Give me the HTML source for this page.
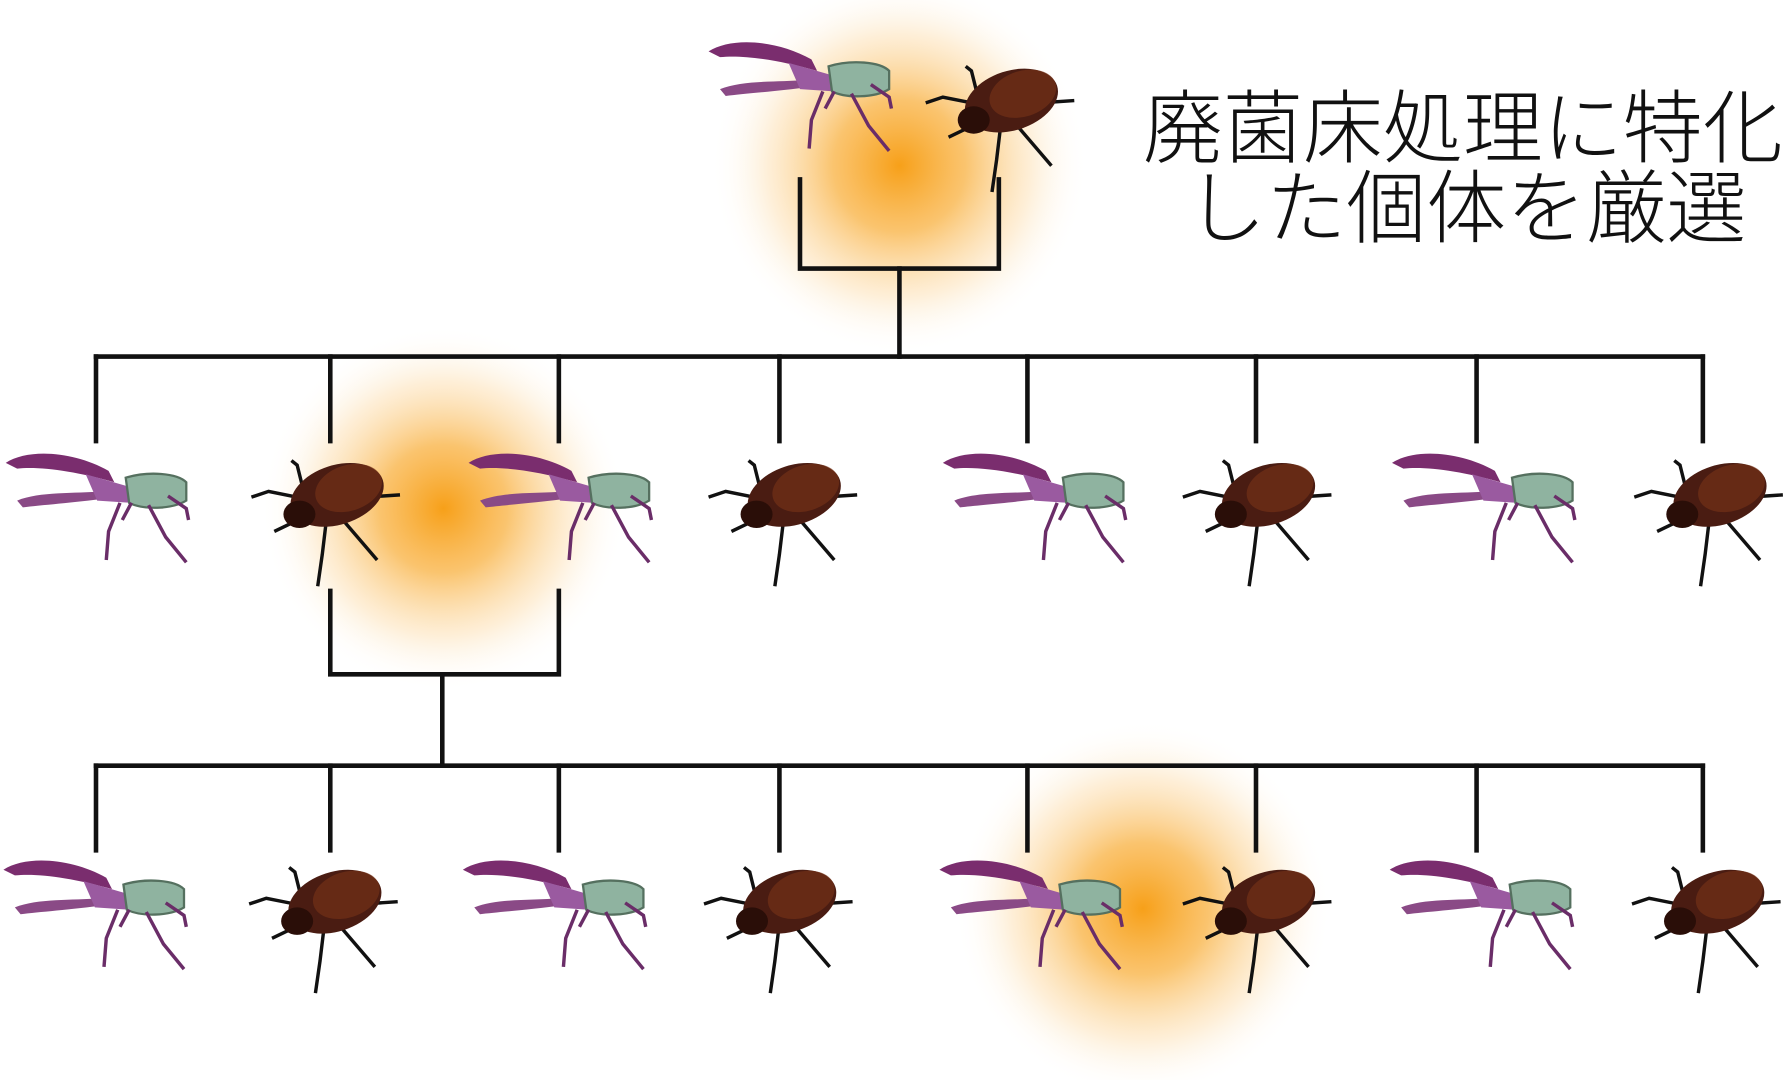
<!DOCTYPE html>
<html><head><meta charset="utf-8"><style>
html,body{margin:0;padding:0;background:#fff;}
svg{display:block;}
</style></head><body>
<svg width="1792" height="1080" viewBox="0 0 1568 945" xmlns="http://www.w3.org/2000/svg">
<defs>
<radialGradient id="g">
<stop offset="0" stop-color="#f7a019" stop-opacity="1"/>
<stop offset="0.35" stop-color="#f9b54a" stop-opacity="0.8"/>
<stop offset="0.7" stop-color="#fcd79e" stop-opacity="0.4"/>
<stop offset="1" stop-color="#fff" stop-opacity="0"/>
</radialGradient>
<g id="male">
<path d="M-80,5 C-60,-8 -20,-5 10,12 L15,22 C-20,12 -50,8 -70,10 Z" fill="#7a2d6e"/>
<path d="M-70,38 C-50,30 -20,32 5,30 L8,36 C-20,40 -50,42 -65,44 Z" fill="#8a4a86"/>
<path d="M-10,15 L25,25 L30,40 L0,38 Z" fill="#9a5aa0"/>
<path d="M25,18 C45,12 70,14 78,22 L78,38 C65,46 40,46 28,40 Z" fill="#8fb3a0" stroke="#55705f" stroke-width="2"/>
<g stroke="#6a2d68" stroke-width="3" fill="none">
<path d="M20,40 L10,65 L8,90"/><path d="M45,42 L60,70 L78,92"/><path d="M62,34 L78,45 L80,55"/><path d="M30,40 L22,55"/>
</g>
</g>
<g id="female">
<g stroke="#111" stroke-width="3" fill="none">
<path d="M-30,10 L-55,5 L-70,10"/><path d="M-25,28 L-50,40"/><path d="M-5,35 L-8,60 L-12,88"/><path d="M10,30 L40,65"/><path d="M30,10 L60,8"/><path d="M-25,2 L-30,-18 L-35,-22"/>
</g>
<ellipse cx="5" cy="8" rx="42" ry="26" transform="rotate(-18 5 8)" fill="#4a1c12"/>
<ellipse cx="15" cy="2" rx="30" ry="20" transform="rotate(-18 15 2)" fill="#7a3418" opacity="0.6"/>
<ellipse cx="-28" cy="25" rx="14" ry="12" fill="#2a0e08"/>
</g>
</defs>
<rect width="1568" height="945" fill="#fff"/>
<circle cx="787" cy="145" r="165" fill="url(#g)"/>
<circle cx="388" cy="445" r="160" fill="url(#g)"/>
<circle cx="1000" cy="795" r="165" fill="url(#g)"/>
<g stroke="#111" stroke-width="4" fill="none" stroke-linecap="square">
<path d="M700,157 V235 H874 V157"/><path d="M787,235 V312"/>
<path d="M84,312 H1490"/>
<path d="M84,312V386 M289,312V386 M489,312V386 M682,312V386 M899,312V386 M1099,312V386 M1292,312V386 M1490,312V386"/>
<path d="M289,517 V590 H489 V517"/><path d="M387,590 V668"/>
<path d="M84,670 H1490"/>
<path d="M84,670V744 M289,670V744 M489,670V744 M682,670V744 M899,670V744 M1099,670V744 M1292,670V744 M1490,670V744"/>
</g>
<use href="#male" x="700" y="40"/>
<use href="#female" x="880" y="80"/>
<use href="#male" x="85" y="400"/><use href="#female" x="290" y="425"/><use href="#male" x="490" y="400"/><use href="#female" x="690" y="425"/>
<use href="#male" x="905" y="400"/><use href="#female" x="1105" y="425"/><use href="#male" x="1298" y="400"/><use href="#female" x="1500" y="425"/>
<use href="#male" x="83" y="756"/><use href="#female" x="288" y="781"/><use href="#male" x="485" y="756"/><use href="#female" x="686" y="781"/>
<use href="#male" x="902" y="756"/><use href="#female" x="1105" y="781"/><use href="#male" x="1296" y="756"/><use href="#female" x="1498" y="781"/>
<text x="1280" y="137" text-anchor="middle" font-family="'Noto Sans CJK JP', sans-serif" font-weight="300" font-size="70" fill="#111">廃菌床処理に特化</text>
<text x="1283" y="207" text-anchor="middle" font-family="'Noto Sans CJK JP', sans-serif" font-weight="300" font-size="70" fill="#111">した個体を厳選</text>
</svg>
</body></html>
